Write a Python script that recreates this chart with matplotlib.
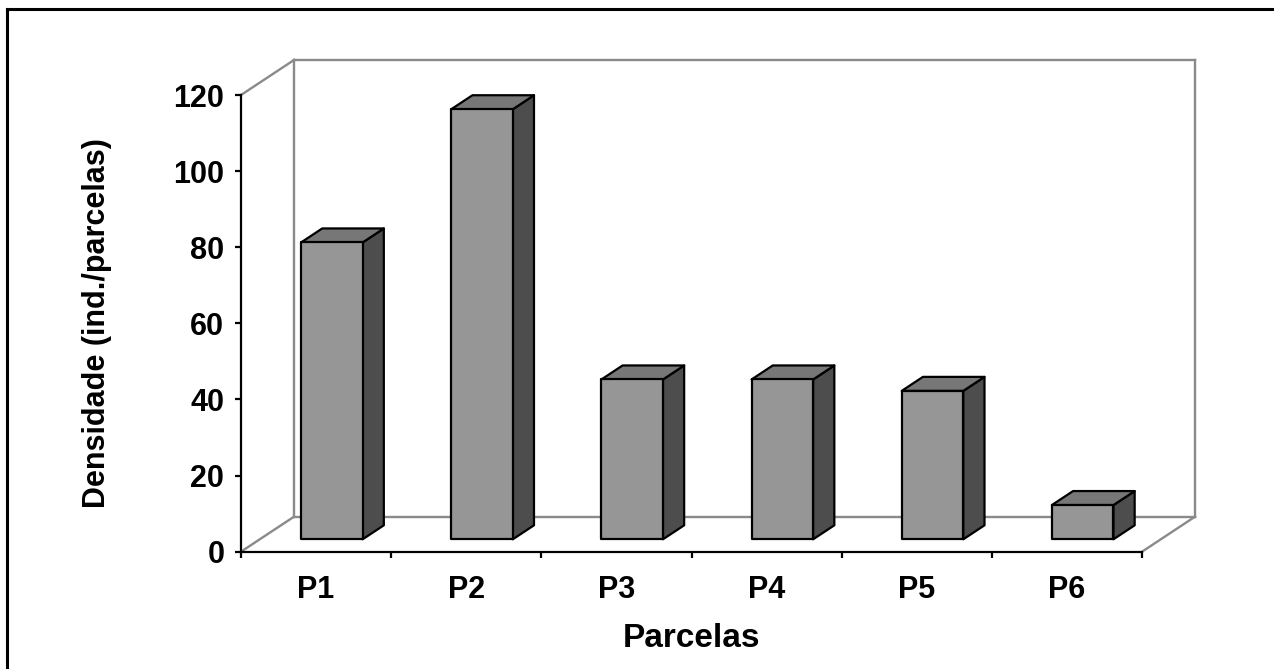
import matplotlib
matplotlib.use("Agg")
import matplotlib.pyplot as plt
from matplotlib.patches import Polygon
from matplotlib.lines import Line2D

categories = ["P1", "P2", "P3", "P4", "P5", "P6"]
densidade = [78, 113, 42, 42, 39, 9]
yticks = [0, 20, 40, 60, 80, 100, 120]

plt.rcParams["font.family"] = ["Liberation Sans", "DejaVu Sans"]
plt.rcParams["font.weight"] = "bold"

W, H = 1274, 669
fig = plt.figure(figsize=(W / 100, H / 100), dpi=100)
fig.patch.set_facecolor("white")

# outer frame (only top and left edges show in the crop)
fig.add_artist(Line2D([7 / W, 7 / W], [0, 1 - 9 / H], color="black", lw=2.2,
                      transform=fig.transFigure))
fig.add_artist(Line2D([7 / W, 1], [1 - 9 / H, 1 - 9 / H], color="black", lw=2.2,
                      transform=fig.transFigure))

ax = fig.add_axes([241 / W, (H - 551.7) / H, 901 / W, 456.7 / H])
n = len(categories)
ax.set_xlim(0, n)
ax.set_ylim(0, 120)
ax.patch.set_alpha(0)

# 3d depth of the plot box, in data units
DX, DY = 0.353, 9.2
wall = "#8a8a8a"
lines = [
    ([0, DX], [120, 120 + DY]),
    ([DX, n + DX], [120 + DY, 120 + DY]),
    ([n + DX, n + DX], [120 + DY, DY]),
    ([DX, DX], [120 + DY, DY]),
    ([DX, n + DX], [DY, DY]),
    ([0, DX], [0, DY]),
    ([n, n + DX], [0, DY]),
]
for xs, ys in lines:
    ax.plot(xs, ys, color=wall, lw=1.7, clip_on=False, zorder=1,
            solid_capstyle="projecting")

# bars
f0, fd = 0.354, 0.40
ox, oy = f0 * DX, f0 * DY
bdx, bdy = fd * DX, fd * DY
bw = 0.41
for i, v in enumerate(densidade):
    c = i + 0.48
    x0, x1 = c - bw / 2 + ox, c + bw / 2 + ox
    y0, y1 = oy, v + oy
    kw = dict(closed=True, ec="black", lw=1.6, joinstyle="round", clip_on=False, zorder=3)
    ax.add_patch(Polygon([(x1, y0), (x1 + bdx, y0 + bdy), (x1 + bdx, y1 + bdy), (x1, y1)],
                         fc="#4d4d4d", **kw))
    ax.add_patch(Polygon([(x0, y1), (x1, y1), (x1 + bdx, y1 + bdy), (x0 + bdx, y1 + bdy)],
                         fc="#777777", **kw))
    ax.add_patch(Polygon([(x0, y0), (x1, y0), (x1, y1), (x0, y1)],
                         fc="#969696", **kw))

for s in ["top", "right"]:
    ax.spines[s].set_visible(False)
for s in ["left", "bottom"]:
    ax.spines[s].set_linewidth(1.6)
    ax.spines[s].set_zorder(4)

ax.set_yticks(yticks)
ax.set_yticklabels([str(t) for t in yticks], fontsize=22, fontweight="bold")
ax.set_xticks(range(n + 1))
ax.set_xticklabels([])
ax.set_xticks([i + 0.5 for i in range(n)], minor=True)
ax.set_xticklabels(categories, minor=True, fontsize=22, fontweight="bold")
ax.tick_params(axis="y", direction="out", length=4, width=1.6, pad=8)
ax.tick_params(axis="x", which="major", direction="out", length=4, width=1.6)
ax.tick_params(axis="x", which="minor", length=0, pad=17)

ax.set_xlabel("Parcelas", fontsize=24, fontweight="bold", labelpad=13)
ax.set_ylabel("Densidade (ind./parcelas)", fontsize=22, fontweight="bold", labelpad=44)

fig.savefig("out.png", dpi=100)
